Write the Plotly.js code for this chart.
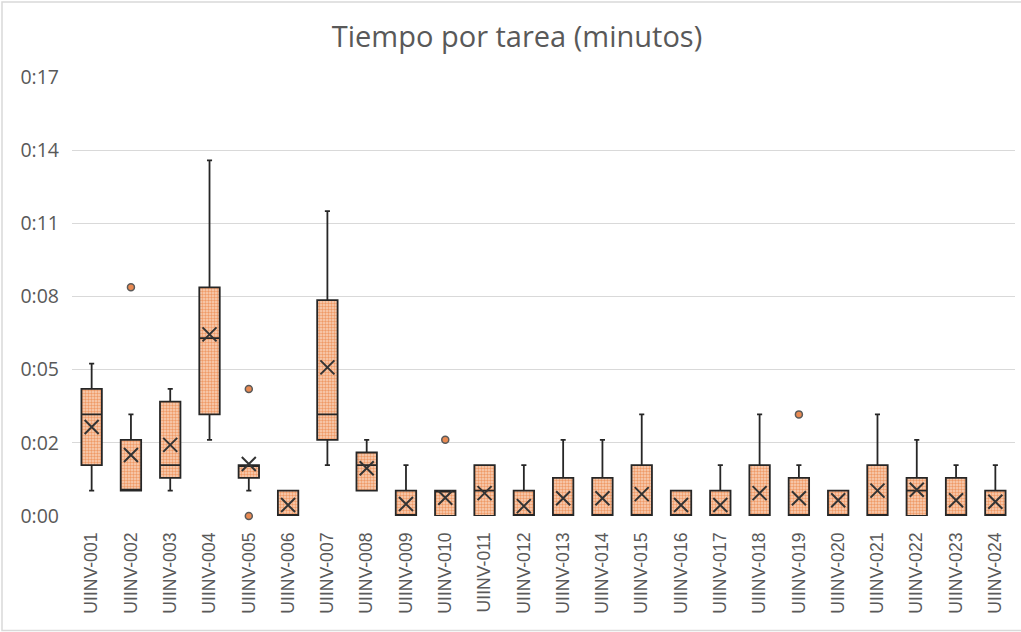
<!DOCTYPE html>
<html>
<head>
<meta charset="utf-8">
<script src="https://cdn.plot.ly/plotly-3.0.1.min.js"></script>
<style>
  html, body { margin: 0; padding: 0; background: #ffffff; }
  #chart { width: 1021px; height: 632px; }
</style>
</head>
<body>
<div id="chart"></div>
<script>
// ---- Data (minutes) ----
const categories = ["UIINV-001","UIINV-002","UIINV-003","UIINV-004","UIINV-005","UIINV-006",
  "UIINV-007","UIINV-008","UIINV-009","UIINV-010","UIINV-011","UIINV-012",
  "UIINV-013","UIINV-014","UIINV-015","UIINV-016","UIINV-017","UIINV-018",
  "UIINV-019","UIINV-020","UIINV-021","UIINV-022","UIINV-023","UIINV-024"];
const lowerWhisker = [1, 1, 1,   3, 1,   0, 2, 1,   0, 0, 0, 0, 0,   0,   0, 0, 0, 0,   0,   0, 0, 0,   0,   0];
const q1Values     = [2, 1, 1.5, 4, 1.5, 0, 3, 1,   0, 0, 0, 0, 0,   0,   0, 0, 0, 0,   0,   0, 0, 0,   0,   0];
const medianValues = [4, 1, 2,   7, 2,   0, 4, 2,   0, 1, 1, 0, 0,   0,   0, 0, 0, 0,   0,   0, 0, 1,   0,   0];
const q3Values     = [5, 3, 4.5, 9, 2,   1, 8.5, 2.5, 1, 1, 2, 1, 1.5, 1.5, 2, 1, 1, 2,   1.5, 1, 2, 1.5, 1.5, 1];
const upperWhisker = [6, 4, 5,  14, 2,   1, 12, 3,  2, 1, 2, 2, 3,   3,   4, 1, 2, 4,   2,   1, 4, 3,   2,   2];
const meanValues   = [3.5, 2.4, 2.8, 7.15, 2.05, 0.43, 5.85, 1.88, 0.47, 0.72, 0.9, 0.39,
                      0.7, 0.7, 0.86, 0.43, 0.43, 0.9, 0.7, 0.62, 1.0, 1.03, 0.62, 0.56];
const outlierCats   = ["UIINV-002","UIINV-005","UIINV-005","UIINV-010","UIINV-019"];
const outlierValues = [9, 5, 0, 3, 4];

const tickValues = [0, 2.88, 5.76, 8.64, 11.52, 14.4, 17.28];
const tickLabels = ["0:00","0:02","0:05","0:08","0:11","0:14","0:17"];

// ---- Layout geometry ----
const W = 1021, H = 632;
const M = { l: 72, r: 6, t: 77, b: 116 };
const pw = W - M.l - M.r, ph = H - M.t - M.b;
const px = p => (p - M.l) / pw;
const py = p => (H - M.b - p) / ph;

const boxWidth = 0.52;
const lineColor = '#262626';

const patternBars = {
  type: 'bar',
  x: categories,
  base: q1Values,
  y: q3Values.map((v, i) => v - q1Values[i]),
  width: boxWidth,
  marker: {
    color: '#F9D2BA',
    line: { width: 0 },
    pattern: { shape: '.', fgcolor: '#EF9A66', bgcolor: '#F9D2BA', size: 3, solidity: 0.5 }
  },
  hoverinfo: 'skip',
  showlegend: false
};

const boxes = {
  type: 'box',
  x: categories,
  q1: q1Values,
  median: medianValues,
  q3: q3Values,
  lowerfence: lowerWhisker,
  upperfence: upperWhisker,
  width: boxWidth,
  whiskerwidth: 0.25,
  fillcolor: 'rgba(0,0,0,0)',
  line: { color: lineColor, width: 1.8 },
  boxpoints: false,
  showlegend: false
};

const means = {
  type: 'scatter',
  mode: 'markers',
  x: categories,
  y: meanValues,
  marker: { symbol: 'x-thin-open', size: 14, color: '#333333', line: { color: '#333333', width: 2 } },
  showlegend: false
};

const outliers = {
  type: 'scatter',
  mode: 'markers',
  x: outlierCats,
  y: outlierValues,
  cliponaxis: false,
  marker: { symbol: 'circle', size: 7, color: '#E98A52', line: { color: '#5a5a5a', width: 1.5 } },
  showlegend: false
};

const layout = {
  width: W, height: H,
  margin: M,
  paper_bgcolor: '#ffffff',
  plot_bgcolor: '#ffffff',
  showlegend: false,
  title: {
    text: 'Tiempo por tarea (minutos)',
    font: { family: 'Open Sans, sans-serif', size: 29, color: '#595959' },
    xref: 'container', x: 517 / W, xanchor: 'center',
    yref: 'container', y: 1 - 37 / H, yanchor: 'middle'
  },
  xaxis: {
    type: 'category',
    categoryorder: 'array',
    categoryarray: categories,
    range: [-0.5, categories.length - 0.5],
    tickangle: -90,
    ticks: '',
    ticklabelstandoff: 12,
    tickfont: { family: 'Liberation Sans, Arial, sans-serif', size: 17.6, color: '#595959' },
    showgrid: false,
    showline: false,
    zeroline: false,
    fixedrange: true
  },
  yaxis: {
    range: [0, 17.28],
    tickmode: 'array',
    tickvals: tickValues,
    ticktext: tickLabels,
    ticks: '',
    ticklabelstandoff: 12,
    tickfont: { family: 'Open Sans, sans-serif', size: 19.5, color: '#595959' },
    showgrid: true,
    gridcolor: '#d9d9d9',
    gridwidth: 1.3,
    zeroline: false,
    showline: false,
    fixedrange: true
  },
  shapes: [{
    type: 'path', xref: 'paper', yref: 'paper',
    path: `M ${px(W + 2)} ${py(2)} L ${px(2)} ${py(2)} L ${px(2)} ${py(630.5)} L ${px(W + 2)} ${py(630.5)}`,
    line: { color: '#d9d9d9', width: 1.5 },
    layer: 'below'
  }],
  barmode: 'overlay'
};

Plotly.newPlot('chart', [patternBars, boxes, means, outliers], layout, { displayModeBar: false, staticPlot: true });
</script>
</body>
</html>
